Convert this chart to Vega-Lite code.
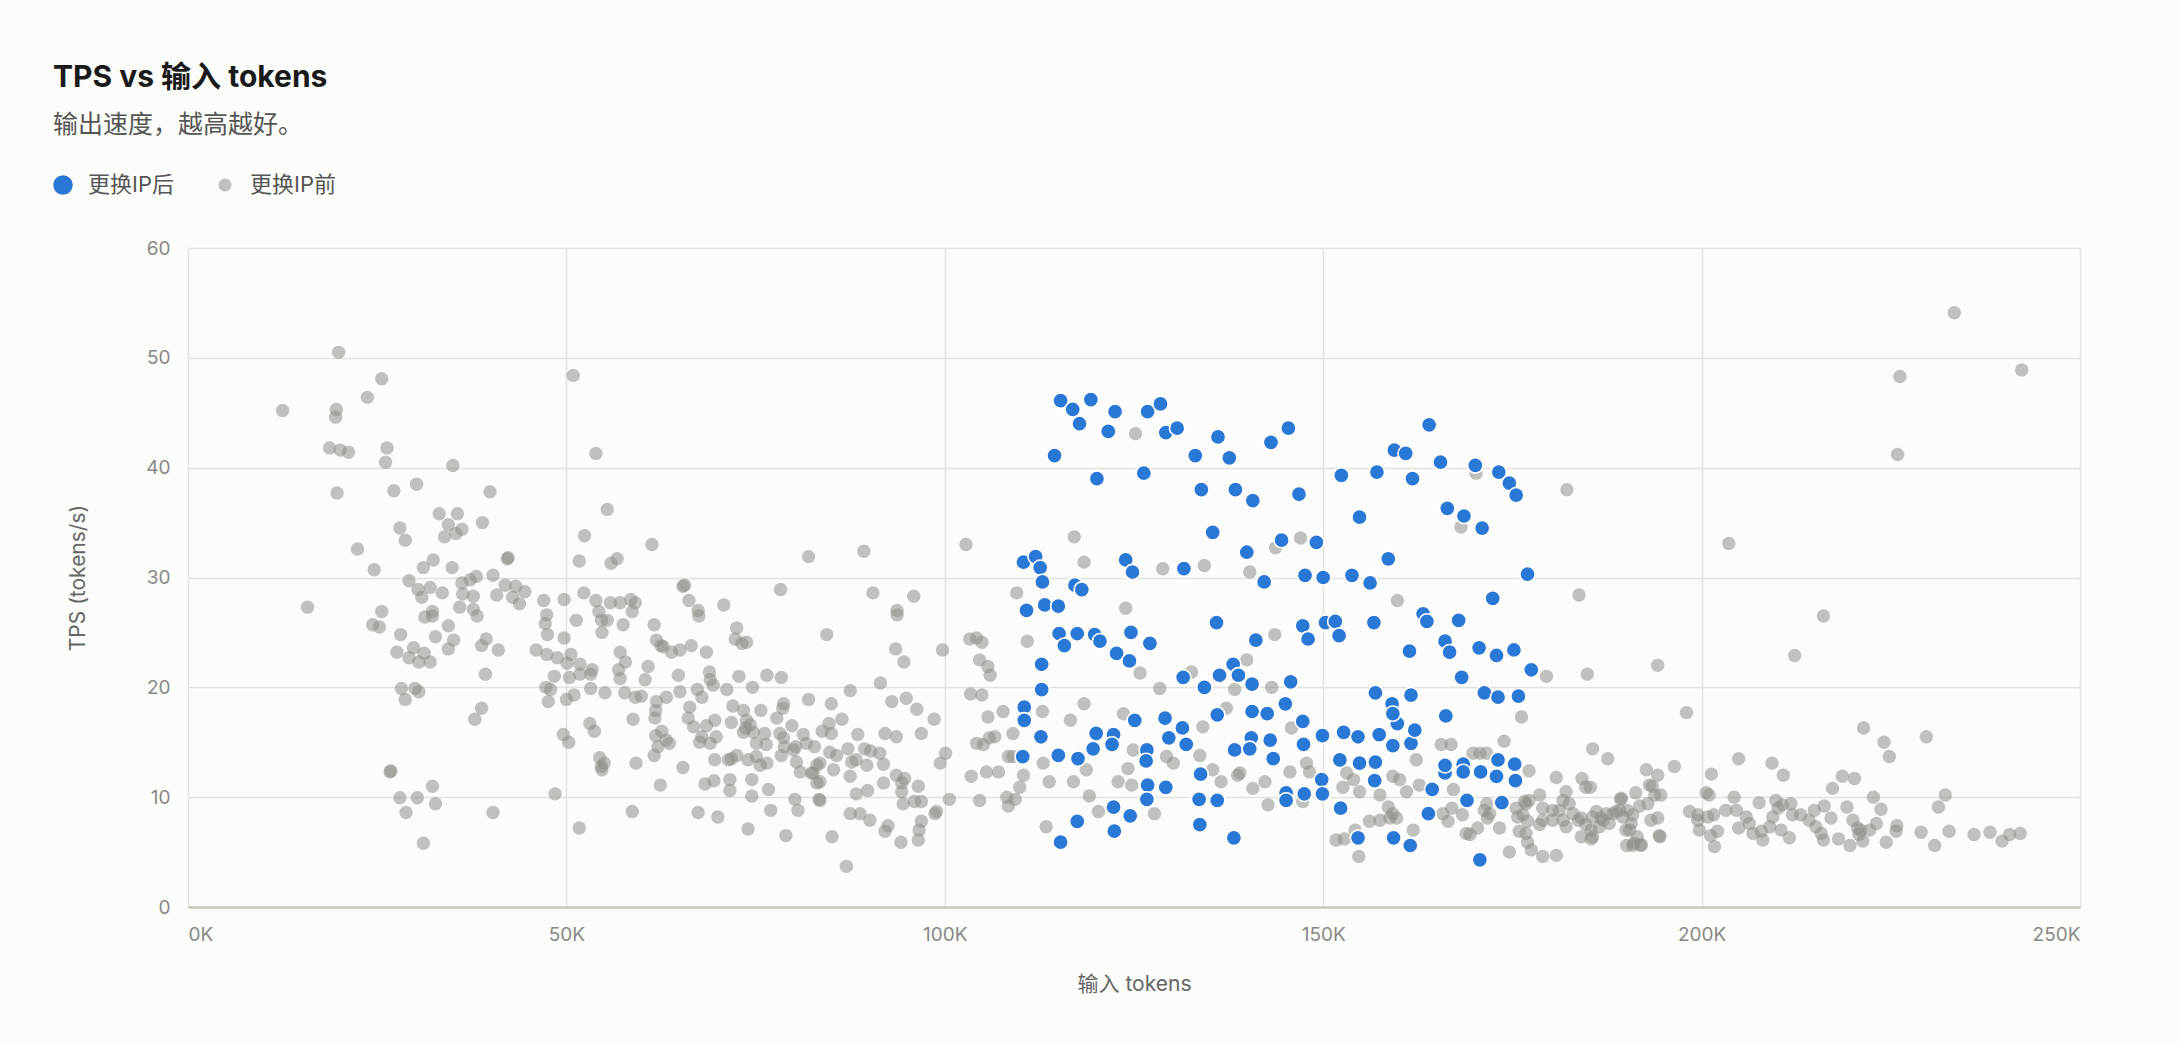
{
"$schema":"https://vega.github.io/schema/vega-lite/v6.json",
"width":1892,"height":659,
"autosize":{"type":"none"},
"padding":{"left":188,"top":248,"right":102,"bottom":135},
"background":"#fcfcfa",
"title":{"text":"TPS vs 输入 tokens","subtitle":"输出速度，越高越好。","anchor":"start","frame":"group","dx":-135,"offset":36,"fontSize":30,"fontWeight":"bold","color":"#1a1a1a","subtitleFontSize":25,"subtitleColor":"#555555","subtitlePadding":20},
"config":{
"font":"Inter, 'Noto Sans CJK SC', sans-serif",
"view":{"stroke":null},
"axis":{"gridColor":"#e3e3dd","gridWidth":1.5,"labelColor":"#888888","labelFontSize":19,"titleColor":"#666666","titleFontSize":21,"titleFontWeight":"normal","ticks":false,"domain":false,"labelPadding":16},
"axisX":{"domain":true,"domainColor":"#c8c8ba","domainWidth":2.5}
},
"data":{"values":[
{"t":19900,"tps":50.5,"g":"更换IP前"},{"t":25600,"tps":48.1,"g":"更换IP前"},{"t":23700,"tps":46.4,"g":"更换IP前"},{"t":12500,"tps":45.2,"g":"更换IP前"},{"t":19600,"tps":45.3,"g":"更换IP前"},{"t":19500,"tps":44.6,"g":"更换IP前"},{"t":18700,"tps":41.8,"g":"更换IP前"},{"t":20100,"tps":41.6,"g":"更换IP前"},{"t":21200,"tps":41.4,"g":"更换IP前"},{"t":26300,"tps":41.8,"g":"更换IP前"},{"t":26100,"tps":40.5,"g":"更换IP前"},{"t":35000,"tps":40.2,"g":"更换IP前"},{"t":50900,"tps":48.4,"g":"更换IP前"},{"t":53900,"tps":41.3,"g":"更换IP前"},{"t":19700,"tps":37.7,"g":"更换IP前"},{"t":27200,"tps":37.9,"g":"更换IP前"},{"t":30200,"tps":38.5,"g":"更换IP前"},{"t":39900,"tps":37.8,"g":"更换IP前"},{"t":33200,"tps":35.8,"g":"更换IP前"},{"t":35600,"tps":35.8,"g":"更换IP前"},{"t":34400,"tps":34.8,"g":"更换IP前"},{"t":36200,"tps":34.4,"g":"更换IP前"},{"t":35400,"tps":34.0,"g":"更换IP前"},{"t":33900,"tps":33.7,"g":"更换IP前"},{"t":38900,"tps":35.0,"g":"更换IP前"},{"t":28000,"tps":34.5,"g":"更换IP前"},{"t":28700,"tps":33.4,"g":"更换IP前"},{"t":22400,"tps":32.6,"g":"更换IP前"},{"t":24600,"tps":30.7,"g":"更换IP前"},{"t":32400,"tps":31.6,"g":"更换IP前"},{"t":31100,"tps":30.9,"g":"更换IP前"},{"t":34900,"tps":30.9,"g":"更换IP前"},{"t":42200,"tps":31.7,"g":"更换IP前"},{"t":42300,"tps":31.8,"g":"更换IP前"},{"t":55400,"tps":36.2,"g":"更换IP前"},{"t":52400,"tps":33.8,"g":"更换IP前"},{"t":61300,"tps":33.0,"g":"更换IP前"},{"t":51700,"tps":31.5,"g":"更换IP前"},{"t":56700,"tps":31.7,"g":"更换IP前"},{"t":55900,"tps":31.3,"g":"更换IP前"},{"t":29200,"tps":29.7,"g":"更换IP前"},{"t":30400,"tps":28.9,"g":"更换IP前"},{"t":32000,"tps":29.1,"g":"更换IP前"},{"t":30900,"tps":28.2,"g":"更换IP前"},{"t":33600,"tps":28.6,"g":"更换IP前"},{"t":36200,"tps":29.5,"g":"更换IP前"},{"t":37300,"tps":29.8,"g":"更换IP前"},{"t":38100,"tps":30.1,"g":"更换IP前"},{"t":36300,"tps":28.5,"g":"更换IP前"},{"t":37700,"tps":28.3,"g":"更换IP前"},{"t":40300,"tps":30.2,"g":"更换IP前"},{"t":41900,"tps":29.3,"g":"更换IP前"},{"t":43300,"tps":29.2,"g":"更换IP前"},{"t":44500,"tps":28.7,"g":"更换IP前"},{"t":40800,"tps":28.4,"g":"更换IP前"},{"t":42900,"tps":28.2,"g":"更换IP前"},{"t":43800,"tps":27.6,"g":"更换IP前"},{"t":47000,"tps":27.9,"g":"更换IP前"},{"t":49700,"tps":28.0,"g":"更换IP前"},{"t":52300,"tps":28.6,"g":"更换IP前"},{"t":53900,"tps":27.9,"g":"更换IP前"},{"t":55800,"tps":27.7,"g":"更换IP前"},{"t":57100,"tps":27.7,"g":"更换IP前"},{"t":58500,"tps":28.0,"g":"更换IP前"},{"t":59100,"tps":27.7,"g":"更换IP前"},{"t":15800,"tps":27.3,"g":"更换IP前"},{"t":25600,"tps":26.9,"g":"更换IP前"},{"t":35900,"tps":27.3,"g":"更换IP前"},{"t":37700,"tps":27.1,"g":"更换IP前"},{"t":32300,"tps":26.9,"g":"更换IP前"},
{"t":24400,"tps":25.7,"g":"更换IP前"},{"t":25300,"tps":25.5,"g":"更换IP前"},{"t":31300,"tps":26.4,"g":"更换IP前"},{"t":32300,"tps":26.5,"g":"更换IP前"},{"t":38200,"tps":26.5,"g":"更换IP前"},{"t":28100,"tps":24.8,"g":"更换IP前"},{"t":27600,"tps":23.2,"g":"更换IP前"},{"t":29800,"tps":23.6,"g":"更换IP前"},{"t":31200,"tps":23.1,"g":"更换IP前"},{"t":29200,"tps":22.7,"g":"更换IP前"},{"t":30500,"tps":22.3,"g":"更换IP前"},{"t":32000,"tps":22.3,"g":"更换IP前"},{"t":32700,"tps":24.6,"g":"更换IP前"},{"t":34400,"tps":25.6,"g":"更换IP前"},{"t":35100,"tps":24.3,"g":"更换IP前"},{"t":34400,"tps":23.5,"g":"更换IP前"},{"t":39400,"tps":24.4,"g":"更换IP前"},{"t":38800,"tps":23.8,"g":"更换IP前"},{"t":41000,"tps":23.4,"g":"更换IP前"},{"t":39300,"tps":21.2,"g":"更换IP前"},{"t":28200,"tps":19.9,"g":"更换IP前"},{"t":30000,"tps":19.9,"g":"更换IP前"},{"t":30500,"tps":19.6,"g":"更换IP前"},{"t":28700,"tps":18.9,"g":"更换IP前"},{"t":38800,"tps":18.1,"g":"更换IP前"},{"t":37900,"tps":17.1,"g":"更换IP前"},{"t":26700,"tps":12.3,"g":"更换IP前"},{"t":26800,"tps":12.4,"g":"更换IP前"},{"t":32300,"tps":11.0,"g":"更换IP前"},{"t":28000,"tps":9.95,"g":"更换IP前"},{"t":30300,"tps":9.95,"g":"更换IP前"},{"t":32700,"tps":9.4,"g":"更换IP前"},{"t":28800,"tps":8.6,"g":"更换IP前"},{"t":40300,"tps":8.6,"g":"更换IP前"},{"t":31100,"tps":5.8,"g":"更换IP前"},
{"t":47400,"tps":26.6,"g":"更换IP前"},{"t":47200,"tps":25.8,"g":"更换IP前"},{"t":47500,"tps":24.8,"g":"更换IP前"},{"t":49700,"tps":24.5,"g":"更换IP前"},{"t":51300,"tps":26.1,"g":"更换IP前"},{"t":46000,"tps":23.4,"g":"更换IP前"},{"t":47400,"tps":23.0,"g":"更换IP前"},{"t":48800,"tps":22.7,"g":"更换IP前"},{"t":50600,"tps":23.0,"g":"更换IP前"},{"t":50100,"tps":22.2,"g":"更换IP前"},{"t":51800,"tps":22.1,"g":"更换IP前"},{"t":51800,"tps":21.2,"g":"更换IP前"},{"t":53400,"tps":21.6,"g":"更换IP前"},{"t":53200,"tps":21.2,"g":"更换IP前"},{"t":48400,"tps":21.0,"g":"更换IP前"},{"t":50400,"tps":20.9,"g":"更换IP前"},{"t":47300,"tps":20.0,"g":"更换IP前"},{"t":47900,"tps":19.8,"g":"更换IP前"},{"t":47600,"tps":18.7,"g":"更换IP前"},{"t":50000,"tps":18.9,"g":"更换IP前"},{"t":51000,"tps":19.3,"g":"更换IP前"},{"t":53200,"tps":19.9,"g":"更换IP前"},{"t":55100,"tps":19.5,"g":"更换IP前"},{"t":49600,"tps":15.7,"g":"更换IP前"},{"t":50300,"tps":15.0,"g":"更换IP前"},{"t":53100,"tps":16.7,"g":"更换IP前"},{"t":53700,"tps":16.0,"g":"更换IP前"},{"t":54400,"tps":13.6,"g":"更换IP前"},{"t":55000,"tps":13.1,"g":"更换IP前"},{"t":54600,"tps":12.8,"g":"更换IP前"},{"t":54700,"tps":12.5,"g":"更换IP前"},{"t":48500,"tps":10.3,"g":"更换IP前"},{"t":51700,"tps":7.2,"g":"更换IP前"},{"t":58700,"tps":8.7,"g":"更换IP前"},{"t":59200,"tps":13.1,"g":"更换IP前"},{"t":58800,"tps":17.1,"g":"更换IP前"},{"t":62400,"tps":11.1,"g":"更换IP前"},
{"t":54300,"tps":26.9,"g":"更换IP前"},{"t":54650,"tps":26.1,"g":"更换IP前"},{"t":55400,"tps":26.1,"g":"更换IP前"},{"t":54700,"tps":25.0,"g":"更换IP前"},{"t":57500,"tps":25.7,"g":"更换IP前"},{"t":58700,"tps":26.9,"g":"更换IP前"},{"t":61600,"tps":25.7,"g":"更换IP前"},{"t":61900,"tps":24.3,"g":"更换IP前"},{"t":62500,"tps":23.8,"g":"更换IP前"},{"t":57100,"tps":23.2,"g":"更换IP前"},{"t":56900,"tps":21.6,"g":"更换IP前"},{"t":57100,"tps":20.8,"g":"更换IP前"},{"t":57800,"tps":22.3,"g":"更换IP前"},{"t":57700,"tps":19.5,"g":"更换IP前"},{"t":59100,"tps":19.1,"g":"更换IP前"},{"t":59900,"tps":19.2,"g":"更换IP前"},{"t":60800,"tps":21.9,"g":"更换IP前"},{"t":60400,"tps":20.7,"g":"更换IP前"},{"t":61900,"tps":18.7,"g":"更换IP前"},{"t":61800,"tps":17.9,"g":"更换IP前"},{"t":61700,"tps":17.2,"g":"更换IP前"},{"t":61800,"tps":15.6,"g":"更换IP前"},{"t":62100,"tps":14.6,"g":"更换IP前"},{"t":61600,"tps":13.8,"g":"更换IP前"},{"t":63200,"tps":19.1,"g":"更换IP前"},{"t":63200,"tps":15.2,"g":"更换IP前"},
{"t":125200,"tps":43.1,"g":"更换IP前"},{"t":117100,"tps":33.7,"g":"更换IP前"},{"t":118400,"tps":31.4,"g":"更换IP前"},{"t":102800,"tps":33.0,"g":"更换IP前"},{"t":109500,"tps":28.6,"g":"更换IP前"},{"t":123900,"tps":27.2,"g":"更换IP前"},{"t":82000,"tps":31.9,"g":"更换IP前"},{"t":89300,"tps":32.4,"g":"更换IP前"},{"t":78300,"tps":28.9,"g":"更换IP前"},{"t":90500,"tps":28.6,"g":"更换IP前"},{"t":95900,"tps":28.3,"g":"更换IP前"},{"t":65400,"tps":29.2,"g":"更换IP前"},{"t":65600,"tps":29.3,"g":"更换IP前"},{"t":66200,"tps":27.9,"g":"更换IP前"},{"t":70800,"tps":27.5,"g":"更换IP前"},{"t":93700,"tps":27.0,"g":"更换IP前"},{"t":67400,"tps":27.0,"g":"更换IP前"},
{"t":67500,"tps":26.5,"g":"更换IP前"},{"t":93700,"tps":26.6,"g":"更换IP前"},{"t":84400,"tps":24.8,"g":"更换IP前"},{"t":72500,"tps":25.4,"g":"更换IP前"},{"t":72300,"tps":24.4,"g":"更换IP前"},{"t":73200,"tps":24.0,"g":"更换IP前"},{"t":73800,"tps":24.1,"g":"更换IP前"},{"t":68500,"tps":23.2,"g":"更换IP前"},{"t":66500,"tps":23.8,"g":"更换IP前"},{"t":65000,"tps":23.4,"g":"更换IP前"},{"t":63900,"tps":23.2,"g":"更换IP前"},{"t":62800,"tps":23.7,"g":"更换IP前"},{"t":93500,"tps":23.5,"g":"更换IP前"},{"t":94600,"tps":22.3,"g":"更换IP前"},{"t":99700,"tps":23.4,"g":"更换IP前"},{"t":64800,"tps":21.1,"g":"更换IP前"},{"t":68900,"tps":21.4,"g":"更换IP前"},{"t":72800,"tps":21.0,"g":"更换IP前"},{"t":76500,"tps":21.1,"g":"更换IP前"},{"t":78400,"tps":20.9,"g":"更换IP前"},{"t":65000,"tps":19.6,"g":"更换IP前"},{"t":67300,"tps":19.8,"g":"更换IP前"},{"t":67900,"tps":19.1,"g":"更换IP前"},{"t":69000,"tps":20.7,"g":"更换IP前"},{"t":69400,"tps":20.2,"g":"更换IP前"},{"t":71200,"tps":19.8,"g":"更换IP前"},{"t":74600,"tps":20.0,"g":"更换IP前"},{"t":87500,"tps":19.7,"g":"更换IP前"},{"t":91500,"tps":20.4,"g":"更换IP前"},{"t":93000,"tps":18.7,"g":"更换IP前"},{"t":94900,"tps":19.0,"g":"更换IP前"},{"t":96300,"tps":18.0,"g":"更换IP前"},{"t":98600,"tps":17.1,"g":"更换IP前"},{"t":82000,"tps":18.9,"g":"更换IP前"},{"t":85000,"tps":18.5,"g":"更换IP前"},{"t":86400,"tps":17.1,"g":"更换IP前"},{"t":78700,"tps":18.5,"g":"更换IP前"},{"t":78600,"tps":18.1,"g":"更换IP前"},{"t":72000,"tps":18.3,"g":"更换IP前"},{"t":73400,"tps":17.9,"g":"更换IP前"},{"t":75700,"tps":17.9,"g":"更换IP前"},{"t":66300,"tps":18.2,"g":"更换IP前"},{"t":66100,"tps":17.2,"g":"更换IP前"},{"t":69600,"tps":17.0,"g":"更换IP前"},{"t":71800,"tps":16.8,"g":"更换IP前"},{"t":73800,"tps":17.0,"g":"更换IP前"},{"t":73700,"tps":16.3,"g":"更换IP前"},{"t":74300,"tps":16.6,"g":"更换IP前"},{"t":73400,"tps":15.9,"g":"更换IP前"},{"t":74700,"tps":15.9,"g":"更换IP前"},{"t":76200,"tps":15.8,"g":"更换IP前"},{"t":77800,"tps":17.2,"g":"更换IP前"},{"t":78200,"tps":15.8,"g":"更换IP前"},{"t":79800,"tps":16.5,"g":"更换IP前"},{"t":66800,"tps":16.4,"g":"更换IP前"},{"t":68500,"tps":16.5,"g":"更换IP前"},{"t":67900,"tps":15.5,"g":"更换IP前"},{"t":69800,"tps":15.5,"g":"更换IP前"},{"t":69000,"tps":14.9,"g":"更换IP前"},{"t":67600,"tps":15.0,"g":"更换IP前"},{"t":63600,"tps":14.9,"g":"更换IP前"},{"t":62600,"tps":16.0,"g":"更换IP前"},{"t":75100,"tps":14.9,"g":"更换IP前"},{"t":76400,"tps":14.8,"g":"更换IP前"},{"t":78700,"tps":15.4,"g":"更换IP前"},{"t":78800,"tps":14.6,"g":"更换IP前"},{"t":80300,"tps":14.6,"g":"更换IP前"},{"t":81300,"tps":15.7,"g":"更换IP前"},{"t":81700,"tps":14.9,"g":"更换IP前"},{"t":82800,"tps":14.6,"g":"更换IP前"},{"t":83800,"tps":16.0,"g":"更换IP前"},{"t":85000,"tps":15.8,"g":"更换IP前"},{"t":84700,"tps":16.7,"g":"更换IP前"},{"t":88500,"tps":15.7,"g":"更换IP前"},{"t":92100,"tps":15.8,"g":"更换IP前"},{"t":93600,"tps":15.5,"g":"更换IP前"},{"t":96900,"tps":15.8,"g":"更换IP前"},{"t":78400,"tps":13.8,"g":"更换IP前"},{"t":80000,"tps":14.3,"g":"更换IP前"},{"t":80400,"tps":13.2,"g":"更换IP前"},{"t":80900,"tps":12.3,"g":"更换IP前"},{"t":83100,"tps":12.9,"g":"更换IP前"},{"t":83500,"tps":13.1,"g":"更换IP前"},{"t":82600,"tps":12.2,"g":"更换IP前"},{"t":84800,"tps":14.1,"g":"更换IP前"},{"t":85700,"tps":13.8,"g":"更换IP前"},{"t":85300,"tps":12.5,"g":"更换IP前"},{"t":87200,"tps":14.4,"g":"更换IP前"},{"t":87700,"tps":13.2,"g":"更换IP前"},{"t":88300,"tps":13.4,"g":"更换IP前"},{"t":89400,"tps":14.4,"g":"更换IP前"},{"t":90200,"tps":14.2,"g":"更换IP前"},{"t":89700,"tps":12.9,"g":"更换IP前"},{"t":91400,"tps":14.0,"g":"更换IP前"},{"t":91900,"tps":13.0,"g":"更换IP前"},{"t":87500,"tps":11.9,"g":"更换IP前"},{"t":83100,"tps":11.3,"g":"更换IP前"},{"t":83500,"tps":11.4,"g":"更换IP前"},{"t":82400,"tps":12.2,"g":"更换IP前"},{"t":71400,"tps":13.4,"g":"更换IP前"},{"t":72500,"tps":13.8,"g":"更换IP前"},{"t":74000,"tps":13.4,"g":"更换IP前"},{"t":75100,"tps":13.7,"g":"更换IP前"},{"t":75600,"tps":12.9,"g":"更换IP前"},{"t":76500,"tps":13.1,"g":"更换IP前"},{"t":69600,"tps":13.4,"g":"更换IP前"},{"t":71800,"tps":13.5,"g":"更换IP前"},{"t":65400,"tps":12.7,"g":"更换IP前"},{"t":68300,"tps":11.2,"g":"更换IP前"},{"t":69500,"tps":11.5,"g":"更换IP前"},{"t":71600,"tps":11.6,"g":"更换IP前"},{"t":71600,"tps":10.6,"g":"更换IP前"},{"t":74500,"tps":11.6,"g":"更换IP前"},{"t":74500,"tps":10.1,"g":"更换IP前"},{"t":76700,"tps":10.7,"g":"更换IP前"},{"t":80200,"tps":9.8,"g":"更换IP前"},{"t":80600,"tps":8.8,"g":"更换IP前"},{"t":83400,"tps":9.8,"g":"更换IP前"},{"t":83500,"tps":9.7,"g":"更换IP前"},{"t":88300,"tps":10.3,"g":"更换IP前"},{"t":89800,"tps":10.6,"g":"更换IP前"},{"t":91900,"tps":11.3,"g":"更换IP前"},{"t":93600,"tps":12.0,"g":"更换IP前"},{"t":94700,"tps":11.7,"g":"更换IP前"},{"t":94300,"tps":11.3,"g":"更换IP前"},{"t":94300,"tps":10.5,"g":"更换IP前"},{"t":96500,"tps":11.0,"g":"更换IP前"},{"t":94500,"tps":9.4,"g":"更换IP前"},{"t":96000,"tps":9.6,"g":"更换IP前"},{"t":96900,"tps":9.6,"g":"更换IP前"},{"t":99400,"tps":13.1,"g":"更换IP前"},{"t":100100,"tps":14.0,"g":"更换IP前"},{"t":100600,"tps":9.8,"g":"更换IP前"},{"t":98700,"tps":8.5,"g":"更换IP前"},{"t":98900,"tps":8.7,"g":"更换IP前"},{"t":96900,"tps":7.8,"g":"更换IP前"},{"t":96600,"tps":7.0,"g":"更换IP前"},{"t":96500,"tps":6.1,"g":"更换IP前"},{"t":94200,"tps":5.9,"g":"更换IP前"},{"t":92500,"tps":7.4,"g":"更换IP前"},{"t":92100,"tps":6.9,"g":"更换IP前"},{"t":90100,"tps":7.9,"g":"更换IP前"},{"t":88800,"tps":8.5,"g":"更换IP前"},{"t":87500,"tps":8.5,"g":"更换IP前"},{"t":85100,"tps":6.4,"g":"更换IP前"},{"t":79000,"tps":6.5,"g":"更换IP前"},{"t":74000,"tps":7.1,"g":"更换IP前"},{"t":70000,"tps":8.2,"g":"更换IP前"},{"t":67400,"tps":8.6,"g":"更换IP前"},{"t":77000,"tps":8.8,"g":"更换IP前"},{"t":87000,"tps":3.7,"g":"更换IP前"},
{"t":103300,"tps":24.4,"g":"更换IP前"},{"t":104200,"tps":24.5,"g":"更换IP前"},{"t":104900,"tps":24.1,"g":"更换IP前"},{"t":104600,"tps":22.5,"g":"更换IP前"},{"t":105700,"tps":21.9,"g":"更换IP前"},{"t":106000,"tps":21.1,"g":"更换IP前"},{"t":103400,"tps":19.4,"g":"更换IP前"},{"t":104900,"tps":19.3,"g":"更换IP前"},{"t":107700,"tps":17.8,"g":"更换IP前"},{"t":105700,"tps":17.3,"g":"更换IP前"},{"t":105900,"tps":15.4,"g":"更换IP前"},{"t":105100,"tps":14.8,"g":"更换IP前"},{"t":104200,"tps":14.9,"g":"更换IP前"},{"t":106600,"tps":15.5,"g":"更换IP前"},{"t":109000,"tps":15.8,"g":"更换IP前"},{"t":108400,"tps":13.7,"g":"更换IP前"},{"t":109000,"tps":13.7,"g":"更换IP前"},{"t":103500,"tps":11.9,"g":"更换IP前"},{"t":105500,"tps":12.3,"g":"更换IP前"},{"t":107100,"tps":12.3,"g":"更换IP前"},{"t":104600,"tps":9.7,"g":"更换IP前"},{"t":108200,"tps":10.0,"g":"更换IP前"},{"t":109300,"tps":9.8,"g":"更换IP前"},{"t":108400,"tps":9.2,"g":"更换IP前"},{"t":109900,"tps":10.9,"g":"更换IP前"},{"t":110400,"tps":12.0,"g":"更换IP前"},{"t":110900,"tps":24.2,"g":"更换IP前"},{"t":112900,"tps":17.8,"g":"更换IP前"},{"t":116600,"tps":17.0,"g":"更换IP前"},{"t":118400,"tps":18.5,"g":"更换IP前"},{"t":113000,"tps":13.1,"g":"更换IP前"},{"t":113800,"tps":11.4,"g":"更换IP前"},{"t":117000,"tps":11.4,"g":"更换IP前"},{"t":118700,"tps":12.5,"g":"更换IP前"},{"t":119100,"tps":10.1,"g":"更换IP前"},{"t":120300,"tps":8.7,"g":"更换IP前"},{"t":122900,"tps":11.4,"g":"更换IP前"},{"t":124200,"tps":12.6,"g":"更换IP前"},{"t":124700,"tps":11.1,"g":"更换IP前"},{"t":113400,"tps":7.3,"g":"更换IP前"},{"t":125800,"tps":21.3,"g":"更换IP前"},{"t":123600,"tps":17.6,"g":"更换IP前"},{"t":124900,"tps":14.3,"g":"更换IP前"},
{"t":128800,"tps":30.8,"g":"更换IP前"},{"t":134300,"tps":31.1,"g":"更换IP前"},{"t":140300,"tps":30.5,"g":"更换IP前"},{"t":143700,"tps":32.7,"g":"更换IP前"},{"t":147000,"tps":33.6,"g":"更换IP前"},{"t":168200,"tps":34.6,"g":"更换IP前"},{"t":170200,"tps":39.5,"g":"更换IP前"},{"t":182200,"tps":38.0,"g":"更换IP前"},{"t":159800,"tps":27.9,"g":"更换IP前"},{"t":183800,"tps":28.4,"g":"更换IP前"},
{"t":143600,"tps":24.8,"g":"更换IP前"},{"t":139900,"tps":22.5,"g":"更换IP前"},{"t":132600,"tps":21.4,"g":"更换IP前"},{"t":128400,"tps":19.9,"g":"更换IP前"},{"t":179500,"tps":21.0,"g":"更换IP前"},{"t":184900,"tps":21.2,"g":"更换IP前"},{"t":176200,"tps":17.3,"g":"更换IP前"},{"t":143200,"tps":20.0,"g":"更换IP前"},{"t":138300,"tps":19.8,"g":"更换IP前"},{"t":137200,"tps":18.1,"g":"更换IP前"},{"t":134100,"tps":16.4,"g":"更换IP前"},{"t":133700,"tps":13.8,"g":"更换IP前"},{"t":130200,"tps":13.1,"g":"更换IP前"},{"t":129300,"tps":13.7,"g":"更换IP前"},{"t":135400,"tps":12.5,"g":"更换IP前"},{"t":136500,"tps":11.4,"g":"更换IP前"},{"t":138700,"tps":12.0,"g":"更换IP前"},{"t":139000,"tps":12.2,"g":"更换IP前"},{"t":140700,"tps":10.8,"g":"更换IP前"},{"t":142300,"tps":11.4,"g":"更换IP前"},{"t":142700,"tps":9.3,"g":"更换IP前"},{"t":145600,"tps":12.3,"g":"更换IP前"},{"t":147800,"tps":13.1,"g":"更换IP前"},{"t":148200,"tps":12.3,"g":"更换IP前"},{"t":147300,"tps":9.6,"g":"更换IP前"},{"t":127700,"tps":8.5,"g":"更换IP前"},{"t":145800,"tps":16.3,"g":"更换IP前"},{"t":153100,"tps":12.2,"g":"更换IP前"},{"t":154000,"tps":11.6,"g":"更换IP前"},{"t":152600,"tps":10.9,"g":"更换IP前"},{"t":154800,"tps":10.5,"g":"更换IP前"},{"t":157500,"tps":10.2,"g":"更换IP前"},{"t":159200,"tps":11.9,"g":"更换IP前"},{"t":160100,"tps":11.6,"g":"更换IP前"},{"t":161000,"tps":10.5,"g":"更换IP前"},{"t":162300,"tps":13.4,"g":"更换IP前"},{"t":162700,"tps":11.1,"g":"更换IP前"},{"t":158600,"tps":9.1,"g":"更换IP前"},{"t":159200,"tps":8.5,"g":"更换IP前"},{"t":159700,"tps":8.1,"g":"更换IP前"},{"t":158800,"tps":8.1,"g":"更换IP前"},{"t":156100,"tps":7.8,"g":"更换IP前"},{"t":157500,"tps":7.9,"g":"更换IP前"},{"t":151700,"tps":6.1,"g":"更换IP前"},{"t":152800,"tps":6.2,"g":"更换IP前"},{"t":154200,"tps":7.0,"g":"更换IP前"},{"t":154700,"tps":4.6,"g":"更换IP前"},{"t":161900,"tps":7.0,"g":"更换IP前"},{"t":165600,"tps":14.8,"g":"更换IP前"},{"t":166900,"tps":14.8,"g":"更换IP前"},{"t":167200,"tps":10.7,"g":"更换IP前"},{"t":167000,"tps":9.0,"g":"更换IP前"},{"t":165800,"tps":8.5,"g":"更换IP前"},{"t":166500,"tps":7.8,"g":"更换IP前"},{"t":169800,"tps":14.0,"g":"更换IP前"},{"t":170700,"tps":14.0,"g":"更换IP前"},{"t":171600,"tps":14.0,"g":"更换IP前"},{"t":173900,"tps":15.1,"g":"更换IP前"},{"t":185600,"tps":14.4,"g":"更换IP前"},{"t":187600,"tps":13.5,"g":"更换IP前"},
{"t":180800,"tps":11.8,"g":"更换IP前"},{"t":184200,"tps":11.7,"g":"更换IP前"},{"t":184700,"tps":10.9,"g":"更换IP前"},{"t":177200,"tps":12.4,"g":"更换IP前"},{"t":191300,"tps":10.4,"g":"更换IP前"},{"t":193500,"tps":11.0,"g":"更换IP前"},{"t":193800,"tps":10.2,"g":"更换IP前"},{"t":194600,"tps":10.2,"g":"更换IP前"},{"t":189300,"tps":9.8,"g":"更换IP前"},{"t":192900,"tps":9.4,"g":"更换IP前"},{"t":191800,"tps":9.2,"g":"更换IP前"},{"t":182100,"tps":10.5,"g":"更换IP前"},{"t":181700,"tps":9.7,"g":"更换IP前"},{"t":182500,"tps":9.4,"g":"更换IP前"},{"t":178600,"tps":10.2,"g":"更换IP前"},{"t":177200,"tps":9.7,"g":"更换IP前"},{"t":176600,"tps":9.6,"g":"更换IP前"},{"t":179000,"tps":9.0,"g":"更换IP前"},{"t":180300,"tps":8.8,"g":"更换IP前"},{"t":181200,"tps":8.8,"g":"更换IP前"},{"t":183000,"tps":8.5,"g":"更换IP前"},{"t":184100,"tps":8.1,"g":"更换IP前"},{"t":184700,"tps":7.5,"g":"更换IP前"},{"t":185600,"tps":8.2,"g":"更换IP前"},{"t":186100,"tps":8.7,"g":"更换IP前"},{"t":186700,"tps":8.1,"g":"更换IP前"},{"t":187400,"tps":8.5,"g":"更换IP前"},{"t":187800,"tps":7.6,"g":"更换IP前"},{"t":188700,"tps":8.7,"g":"更换IP前"},{"t":186500,"tps":7.3,"g":"更换IP前"},{"t":185400,"tps":7.0,"g":"更换IP前"},{"t":185600,"tps":6.4,"g":"更换IP前"},{"t":184100,"tps":6.4,"g":"更换IP前"},{"t":189600,"tps":8.2,"g":"更换IP前"},{"t":190200,"tps":8.8,"g":"更换IP前"},{"t":190700,"tps":7.6,"g":"更换IP前"},{"t":190000,"tps":7.0,"g":"更换IP前"},{"t":191500,"tps":6.4,"g":"更换IP前"},{"t":191100,"tps":5.8,"g":"更换IP前"},{"t":192000,"tps":5.7,"g":"更换IP前"},{"t":193300,"tps":7.9,"g":"更换IP前"},{"t":194200,"tps":8.1,"g":"更换IP前"},{"t":194400,"tps":6.5,"g":"更换IP前"},{"t":198400,"tps":8.7,"g":"更换IP前"},{"t":199500,"tps":8.4,"g":"更换IP前"},{"t":199700,"tps":7.0,"g":"更换IP前"},{"t":200600,"tps":10.4,"g":"更换IP前"},{"t":200800,"tps":8.2,"g":"更换IP前"},{"t":201200,"tps":6.5,"g":"更换IP前"},{"t":201700,"tps":5.5,"g":"更换IP前"},{"t":180300,"tps":7.9,"g":"更换IP前"},{"t":181700,"tps":7.9,"g":"更换IP前"},{"t":179000,"tps":7.9,"g":"更换IP前"},{"t":178600,"tps":7.5,"g":"更换IP前"},{"t":177000,"tps":7.8,"g":"更换IP前"},{"t":176800,"tps":6.7,"g":"更换IP前"},{"t":177000,"tps":5.9,"g":"更换IP前"},{"t":177500,"tps":5.2,"g":"更换IP前"},{"t":174600,"tps":5.0,"g":"更换IP前"},{"t":179000,"tps":4.6,"g":"更换IP前"},{"t":180800,"tps":4.7,"g":"更换IP前"},{"t":175900,"tps":6.9,"g":"更换IP前"},{"t":175700,"tps":8.2,"g":"更换IP前"},{"t":176800,"tps":9.4,"g":"更换IP前"},{"t":173300,"tps":7.2,"g":"更换IP前"},{"t":171700,"tps":8.1,"g":"更换IP前"},{"t":171300,"tps":8.8,"g":"更换IP前"},{"t":170400,"tps":7.2,"g":"更换IP前"},{"t":168900,"tps":6.7,"g":"更换IP前"},{"t":168400,"tps":8.4,"g":"更换IP前"},{"t":182100,"tps":7.3,"g":"更换IP前"},{"t":169400,"tps":6.6,"g":"更换IP前"},{"t":171600,"tps":9.4,"g":"更换IP前"},{"t":172000,"tps":8.5,"g":"更换IP前"},{"t":175500,"tps":9.0,"g":"更换IP前"},{"t":176400,"tps":8.4,"g":"更换IP前"},{"t":183700,"tps":7.9,"g":"更换IP前"},{"t":185400,"tps":6.2,"g":"更换IP前"},{"t":187000,"tps":7.9,"g":"更换IP前"},{"t":188300,"tps":8.5,"g":"更换IP前"},{"t":189200,"tps":8.8,"g":"更换IP前"},{"t":189400,"tps":9.9,"g":"更换IP前"},{"t":190100,"tps":5.6,"g":"更换IP前"},{"t":185300,"tps":10.9,"g":"更换IP前"},
{"t":233400,"tps":54.1,"g":"更换IP前"},{"t":226200,"tps":48.3,"g":"更换IP前"},{"t":242300,"tps":48.9,"g":"更换IP前"},{"t":225900,"tps":41.2,"g":"更换IP前"},{"t":203600,"tps":33.1,"g":"更换IP前"},{"t":216100,"tps":26.5,"g":"更换IP前"},{"t":212300,"tps":22.9,"g":"更换IP前"},{"t":194200,"tps":22.0,"g":"更换IP前"},{"t":198000,"tps":17.7,"g":"更换IP前"},{"t":221400,"tps":16.3,"g":"更换IP前"},{"t":224100,"tps":15.0,"g":"更换IP前"},{"t":224800,"tps":13.7,"g":"更换IP前"},{"t":229700,"tps":15.5,"g":"更换IP前"},{"t":192700,"tps":12.5,"g":"更换IP前"},{"t":194200,"tps":12.0,"g":"更换IP前"},{"t":196400,"tps":12.8,"g":"更换IP前"},{"t":193100,"tps":11.1,"g":"更换IP前"},{"t":190900,"tps":5.6,"g":"更换IP前"},{"t":192000,"tps":5.6,"g":"更换IP前"},{"t":194500,"tps":6.4,"g":"更换IP前"},{"t":190500,"tps":7.0,"g":"更换IP前"},{"t":190900,"tps":8.4,"g":"更换IP前"},{"t":199500,"tps":7.9,"g":"更换IP前"},{"t":201000,"tps":10.2,"g":"更换IP前"},{"t":201300,"tps":12.1,"g":"更换IP前"},{"t":201600,"tps":8.4,"g":"更换IP前"},{"t":202100,"tps":6.9,"g":"更换IP前"},{"t":203200,"tps":8.8,"g":"更换IP前"},{"t":204300,"tps":10.0,"g":"更换IP前"},{"t":204600,"tps":8.8,"g":"更换IP前"},{"t":204900,"tps":13.5,"g":"更换IP前"},{"t":204900,"tps":7.2,"g":"更换IP前"},{"t":205900,"tps":8.2,"g":"更换IP前"},{"t":206300,"tps":7.6,"g":"更换IP前"},{"t":206800,"tps":6.7,"g":"更换IP前"},{"t":207600,"tps":9.5,"g":"更换IP前"},{"t":207900,"tps":6.9,"g":"更换IP前"},{"t":208100,"tps":6.1,"g":"更换IP前"},{"t":209000,"tps":7.3,"g":"更换IP前"},{"t":209300,"tps":13.1,"g":"更换IP前"},{"t":209800,"tps":9.7,"g":"更换IP前"},{"t":210100,"tps":9.0,"g":"更换IP前"},{"t":209400,"tps":8.2,"g":"更换IP前"},{"t":210500,"tps":7.0,"g":"更换IP前"},{"t":210800,"tps":12.0,"g":"更换IP前"},{"t":210700,"tps":9.3,"g":"更换IP前"},{"t":211800,"tps":9.4,"g":"更换IP前"},{"t":211600,"tps":6.3,"g":"更换IP前"},{"t":212000,"tps":8.4,"g":"更换IP前"},{"t":213100,"tps":8.4,"g":"更换IP前"},{"t":214200,"tps":7.9,"g":"更换IP前"},{"t":214900,"tps":8.8,"g":"更换IP前"},{"t":215100,"tps":7.3,"g":"更换IP前"},{"t":215800,"tps":6.7,"g":"更换IP前"},{"t":216200,"tps":9.2,"g":"更换IP前"},{"t":216100,"tps":6.1,"g":"更换IP前"},{"t":217300,"tps":10.8,"g":"更换IP前"},{"t":217100,"tps":8.1,"g":"更换IP前"},{"t":218100,"tps":6.2,"g":"更换IP前"},{"t":218600,"tps":11.9,"g":"更换IP前"},{"t":219200,"tps":9.1,"g":"更换IP前"},{"t":220200,"tps":11.7,"g":"更换IP前"},{"t":220000,"tps":7.9,"g":"更换IP前"},{"t":220600,"tps":7.2,"g":"更换IP前"},{"t":221000,"tps":7.0,"g":"更换IP前"},{"t":220800,"tps":6.6,"g":"更换IP前"},{"t":221300,"tps":6.0,"g":"更换IP前"},{"t":219600,"tps":5.6,"g":"更换IP前"},{"t":222200,"tps":7.0,"g":"更换IP前"},{"t":222700,"tps":10.0,"g":"更换IP前"},{"t":223100,"tps":7.6,"g":"更换IP前"},{"t":223700,"tps":8.9,"g":"更换IP前"},{"t":224400,"tps":5.9,"g":"更换IP前"},{"t":225800,"tps":7.4,"g":"更换IP前"},{"t":225700,"tps":6.9,"g":"更换IP前"},{"t":229000,"tps":6.8,"g":"更换IP前"},{"t":230800,"tps":5.6,"g":"更换IP前"},{"t":231300,"tps":9.1,"g":"更换IP前"},{"t":232200,"tps":10.2,"g":"更换IP前"},{"t":232700,"tps":6.9,"g":"更换IP前"},{"t":236000,"tps":6.6,"g":"更换IP前"},{"t":238100,"tps":6.8,"g":"更换IP前"},{"t":239700,"tps":6.0,"g":"更换IP前"},{"t":240700,"tps":6.6,"g":"更换IP前"},{"t":242100,"tps":6.7,"g":"更换IP前"},
{"t":115300,"tps":46.1,"g":"更换IP后"},{"t":116900,"tps":45.3,"g":"更换IP后"},{"t":117800,"tps":44.0,"g":"更换IP后"},{"t":119300,"tps":46.2,"g":"更换IP后"},{"t":122500,"tps":45.1,"g":"更换IP后"},{"t":121600,"tps":43.3,"g":"更换IP后"},{"t":126800,"tps":45.1,"g":"更换IP后"},{"t":114500,"tps":41.1,"g":"更换IP后"},{"t":120100,"tps":39.0,"g":"更换IP后"},{"t":126300,"tps":39.5,"g":"更换IP后"},{"t":110400,"tps":31.4,"g":"更换IP后"},{"t":112000,"tps":31.9,"g":"更换IP后"},{"t":112600,"tps":30.9,"g":"更换IP后"},{"t":112900,"tps":29.6,"g":"更换IP后"},{"t":117200,"tps":29.3,"g":"更换IP后"},{"t":118100,"tps":28.9,"g":"更换IP后"},{"t":123900,"tps":31.6,"g":"更换IP后"},{"t":124800,"tps":30.5,"g":"更换IP后"},{"t":110800,"tps":27.0,"g":"更换IP后"},{"t":113200,"tps":27.5,"g":"更换IP后"},{"t":115000,"tps":27.4,"g":"更换IP后"},
{"t":115100,"tps":24.9,"g":"更换IP后"},{"t":115800,"tps":23.8,"g":"更换IP后"},{"t":117500,"tps":24.9,"g":"更换IP后"},{"t":119800,"tps":24.8,"g":"更换IP后"},{"t":120500,"tps":24.2,"g":"更换IP后"},{"t":122700,"tps":23.1,"g":"更换IP后"},{"t":124600,"tps":25.0,"g":"更换IP后"},{"t":124400,"tps":22.4,"g":"更换IP后"},{"t":127100,"tps":24.0,"g":"更换IP后"},{"t":112800,"tps":22.1,"g":"更换IP后"},{"t":112800,"tps":19.8,"g":"更换IP后"},{"t":110500,"tps":18.2,"g":"更换IP后"},{"t":110500,"tps":17.0,"g":"更换IP后"},{"t":112700,"tps":15.5,"g":"更换IP后"},{"t":110300,"tps":13.7,"g":"更换IP后"},{"t":115000,"tps":13.8,"g":"更换IP后"},{"t":117600,"tps":13.5,"g":"更换IP后"},{"t":119600,"tps":14.4,"g":"更换IP后"},{"t":120000,"tps":15.8,"g":"更换IP后"},{"t":122300,"tps":15.7,"g":"更换IP后"},{"t":122100,"tps":14.8,"g":"更换IP后"},{"t":125100,"tps":17.0,"g":"更换IP后"},{"t":126700,"tps":14.3,"g":"更换IP后"},{"t":126600,"tps":13.3,"g":"更换IP后"},{"t":126800,"tps":11.1,"g":"更换IP后"},{"t":126700,"tps":9.8,"g":"更换IP后"},{"t":122300,"tps":9.1,"g":"更换IP后"},{"t":124500,"tps":8.3,"g":"更换IP后"},{"t":122400,"tps":6.9,"g":"更换IP后"},{"t":117500,"tps":7.8,"g":"更换IP后"},{"t":115300,"tps":5.9,"g":"更换IP后"},
{"t":128500,"tps":45.8,"g":"更换IP后"},{"t":129200,"tps":43.2,"g":"更换IP后"},{"t":130700,"tps":43.6,"g":"更换IP后"},{"t":136100,"tps":42.8,"g":"更换IP后"},{"t":133100,"tps":41.1,"g":"更换IP后"},{"t":137600,"tps":40.9,"g":"更换IP后"},{"t":143100,"tps":42.3,"g":"更换IP后"},{"t":145400,"tps":43.6,"g":"更换IP后"},{"t":133900,"tps":38.0,"g":"更换IP后"},{"t":138400,"tps":38.0,"g":"更换IP后"},{"t":140700,"tps":37.0,"g":"更换IP后"},{"t":146800,"tps":37.6,"g":"更换IP后"},{"t":135400,"tps":34.1,"g":"更换IP后"},{"t":139900,"tps":32.3,"g":"更换IP后"},{"t":144500,"tps":33.4,"g":"更换IP后"},{"t":149100,"tps":33.2,"g":"更换IP后"},{"t":131600,"tps":30.8,"g":"更换IP后"},{"t":142200,"tps":29.6,"g":"更换IP后"},{"t":147600,"tps":30.2,"g":"更换IP后"},{"t":150000,"tps":30.0,"g":"更换IP后"},{"t":153800,"tps":30.2,"g":"更换IP后"},{"t":156200,"tps":29.5,"g":"更换IP后"},{"t":158600,"tps":31.7,"g":"更换IP后"},{"t":152400,"tps":39.3,"g":"更换IP后"},{"t":157100,"tps":39.6,"g":"更换IP后"},{"t":159400,"tps":41.6,"g":"更换IP后"},{"t":160900,"tps":41.3,"g":"更换IP后"},{"t":161800,"tps":39.0,"g":"更换IP后"},{"t":164000,"tps":43.9,"g":"更换IP后"},{"t":165500,"tps":40.5,"g":"更换IP后"},{"t":170100,"tps":40.2,"g":"更换IP后"},{"t":173200,"tps":39.6,"g":"更换IP后"},{"t":174600,"tps":38.6,"g":"更换IP后"},{"t":175500,"tps":37.5,"g":"更换IP后"},{"t":154800,"tps":35.5,"g":"更换IP后"},{"t":166400,"tps":36.3,"g":"更换IP后"},{"t":168600,"tps":35.6,"g":"更换IP后"},{"t":171000,"tps":34.5,"g":"更换IP后"},{"t":177000,"tps":30.3,"g":"更换IP后"},{"t":172400,"tps":28.1,"g":"更换IP后"},
{"t":135900,"tps":25.9,"g":"更换IP后"},{"t":141100,"tps":24.3,"g":"更换IP后"},{"t":147300,"tps":25.6,"g":"更换IP后"},{"t":148000,"tps":24.4,"g":"更换IP后"},{"t":150300,"tps":25.9,"g":"更换IP后"},{"t":151600,"tps":26.0,"g":"更换IP后"},{"t":152100,"tps":24.7,"g":"更换IP后"},{"t":156700,"tps":25.9,"g":"更换IP后"},{"t":163200,"tps":26.7,"g":"更换IP后"},{"t":163700,"tps":26.0,"g":"更换IP后"},{"t":167900,"tps":26.1,"g":"更换IP后"},{"t":161400,"tps":23.3,"g":"更换IP后"},{"t":166100,"tps":24.2,"g":"更换IP后"},{"t":166700,"tps":23.2,"g":"更换IP后"},{"t":170600,"tps":23.6,"g":"更换IP后"},{"t":172900,"tps":22.9,"g":"更换IP后"},{"t":175200,"tps":23.4,"g":"更换IP后"},{"t":177500,"tps":21.6,"g":"更换IP后"},{"t":168300,"tps":20.9,"g":"更换IP后"},{"t":171300,"tps":19.5,"g":"更换IP后"},{"t":173100,"tps":19.1,"g":"更换IP后"},{"t":175800,"tps":19.2,"g":"更换IP后"},{"t":131500,"tps":20.9,"g":"更换IP后"},{"t":134300,"tps":20.0,"g":"更换IP后"},{"t":136300,"tps":21.1,"g":"更换IP后"},{"t":138100,"tps":22.1,"g":"更换IP后"},{"t":138800,"tps":21.1,"g":"更换IP后"},{"t":140600,"tps":20.3,"g":"更换IP后"},{"t":145700,"tps":20.5,"g":"更换IP后"},{"t":145000,"tps":18.5,"g":"更换IP后"},{"t":136000,"tps":17.5,"g":"更换IP后"},{"t":129100,"tps":17.2,"g":"更换IP后"},{"t":131400,"tps":16.3,"g":"更换IP后"},{"t":129600,"tps":15.4,"g":"更换IP后"},{"t":131900,"tps":14.8,"g":"更换IP后"},{"t":129200,"tps":10.9,"g":"更换IP后"},{"t":133800,"tps":12.1,"g":"更换IP后"},{"t":133600,"tps":9.8,"g":"更换IP后"},{"t":136000,"tps":9.7,"g":"更换IP后"},{"t":133700,"tps":7.5,"g":"更换IP后"},{"t":138200,"tps":6.3,"g":"更换IP后"},{"t":140600,"tps":17.8,"g":"更换IP后"},{"t":142600,"tps":17.6,"g":"更换IP后"},{"t":140500,"tps":15.4,"g":"更换IP后"},{"t":143000,"tps":15.2,"g":"更换IP后"},{"t":138300,"tps":14.3,"g":"更换IP后"},{"t":140300,"tps":14.4,"g":"更换IP后"},{"t":143400,"tps":13.5,"g":"更换IP后"},{"t":147300,"tps":16.9,"g":"更换IP后"},{"t":147400,"tps":14.8,"g":"更换IP后"},{"t":149900,"tps":15.6,"g":"更换IP后"},{"t":152700,"tps":15.9,"g":"更换IP后"},{"t":154600,"tps":15.5,"g":"更换IP后"},{"t":157400,"tps":15.7,"g":"更换IP后"},{"t":159200,"tps":14.7,"g":"更换IP后"},{"t":161600,"tps":14.9,"g":"更换IP后"},{"t":162100,"tps":16.1,"g":"更换IP后"},{"t":159800,"tps":16.7,"g":"更换IP后"},{"t":159100,"tps":18.5,"g":"更换IP后"},{"t":159200,"tps":17.6,"g":"更换IP后"},{"t":156900,"tps":19.5,"g":"更换IP后"},{"t":161600,"tps":19.3,"g":"更换IP后"},{"t":166200,"tps":17.4,"g":"更换IP后"},{"t":152200,"tps":13.4,"g":"更换IP后"},{"t":154800,"tps":13.1,"g":"更换IP后"},{"t":156900,"tps":13.2,"g":"更换IP后"},{"t":156800,"tps":11.5,"g":"更换IP后"},{"t":149800,"tps":11.6,"g":"更换IP后"},{"t":149900,"tps":10.3,"g":"更换IP后"},{"t":147500,"tps":10.3,"g":"更换IP后"},{"t":145100,"tps":10.4,"g":"更换IP后"},{"t":145100,"tps":9.7,"g":"更换IP后"},{"t":152300,"tps":9.0,"g":"更换IP后"},{"t":154600,"tps":6.3,"g":"更换IP后"},{"t":159300,"tps":6.3,"g":"更换IP后"},{"t":161500,"tps":5.6,"g":"更换IP后"},{"t":164400,"tps":10.7,"g":"更换IP后"},{"t":163900,"tps":8.5,"g":"更换IP后"},{"t":166100,"tps":12.2,"g":"更换IP后"},{"t":166100,"tps":12.9,"g":"更换IP后"},{"t":168500,"tps":13.0,"g":"更换IP后"},{"t":168500,"tps":12.3,"g":"更换IP后"},{"t":170800,"tps":12.3,"g":"更换IP后"},{"t":173100,"tps":13.4,"g":"更换IP后"},{"t":172900,"tps":11.9,"g":"更换IP后"},{"t":175300,"tps":13.0,"g":"更换IP后"},{"t":175400,"tps":11.5,"g":"更换IP后"},{"t":169000,"tps":9.7,"g":"更换IP后"},{"t":173600,"tps":9.5,"g":"更换IP后"},{"t":170700,"tps":4.3,"g":"更换IP后"}
]},
"encoding":{
"x":{"field":"t","type":"quantitative","title":"输入 tokens","scale":{"domain":[0,250000]},"axis":{"values":[0,50000,100000,150000,200000,250000],"labelExpr":"datum.value / 1000 + 'K'","labelPadding":18,"titlePadding":29}},
"y":{"field":"tps","type":"quantitative","title":"TPS (tokens/s)","scale":{"domain":[0,60]},"axis":{"values":[0,10,20,30,40,50,60],"labelPadding":18,"titlePadding":57}},
"color":{"field":"g","type":"nominal","scale":{"domain":["更换IP后","更换IP前"],"range":["#2a78d6","#8e8e88"]},"legend":{"title":null,"orient":"none","legendX":-136,"legendY":-74,"direction":"horizontal","symbolType":"circle","symbolSize":380,"symbolStrokeWidth":0,"symbolOpacity":1,"labelFontSize":22,"labelColor":"#555555","columnPadding":40,"labelOffset":14,"encode":{"symbols":{"update":{"size":{"signal":"datum.index === 0 ? 380 : 170"},"opacity":{"signal":"datum.index === 0 ? 1 : 0.55"}}}}}}
},
"layer":[
{"transform":[{"filter":"datum.g === '更换IP前'"}],"mark":{"type":"circle","size":180,"opacity":0.55}},
{"transform":[{"filter":"datum.g === '更换IP后'"}],"mark":{"type":"circle","size":235,"opacity":1,"stroke":"#ffffff","strokeWidth":1.6}}
]
}
